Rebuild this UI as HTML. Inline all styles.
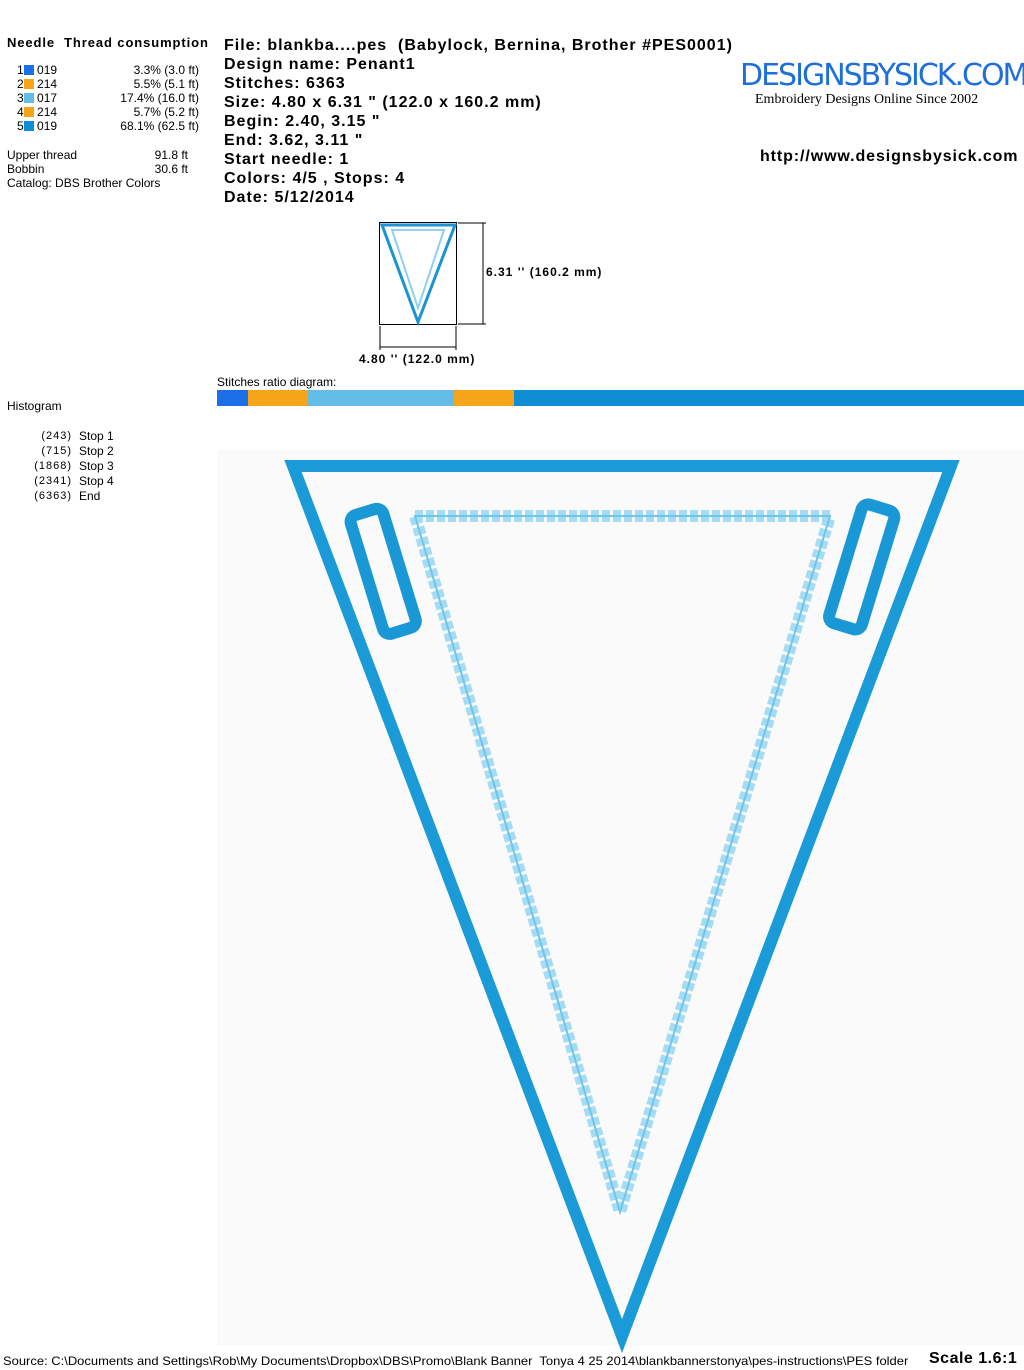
<!DOCTYPE html>
<html><head><style>
body{margin:0;width:1024px;height:1370px;background:#fff;position:relative;overflow:hidden;font-family:"Liberation Sans",Arial,sans-serif;color:#000}
.a{position:absolute;white-space:nowrap}
.s{font-size:12px;line-height:14px}
.b{font-weight:bold;font-size:16px;line-height:19px;letter-spacing:1px}
.sw{display:inline-block;width:10px;height:10px;vertical-align:-1px}
</style></head><body>
<div class="a" style="left:7px;top:35px;font-weight:bold;font-size:13px;letter-spacing:0.9px">Needle&nbsp;&nbsp;Thread consumption</div>
<div class="a s" style="left:17px;top:63px;line-height:14px">1<span class="sw" style="background:#1a6fe6"></span> 019<br>2<span class="sw" style="background:#f6a51a"></span> 214<br>3<span class="sw" style="background:#63bde8"></span> 017<br>4<span class="sw" style="background:#f6a51a"></span> 214<br>5<span class="sw" style="background:#0f8ed6"></span> 019</div>
<div class="a s" style="left:100px;top:63px;width:99px;text-align:right">3.3% (3.0 ft)<br>5.5% (5.1 ft)<br>17.4% (16.0 ft)<br>5.7% (5.2 ft)<br>68.1% (62.5 ft)</div>
<div class="a s" style="left:7px;top:148px">Upper thread<br>Bobbin<br>Catalog: DBS Brother Colors</div>
<div class="a s" style="left:150px;top:148px;width:38px;text-align:right">91.8 ft<br>30.6 ft</div>
<div class="a b" style="left:224px;top:36px">File: blankba....pes&nbsp; (Babylock, Bernina, Brother #PES0001)<br>Design name: Penant1<br>Stitches: 6363<br>Size: 4.80 x 6.31 " (122.0 x 160.2 mm)<br>Begin: 2.40, 3.15 "<br>End: 3.62, 3.11 "<br>Start needle: 1<br>Colors: 4/5 , Stops: 4<br>Date: 5/12/2014</div>
<div class="a" style="left:740px;top:58px;font-size:30px;color:#1e6fd9;font-family:'DejaVu Sans',sans-serif;letter-spacing:-2px">DESIGNSBYSICK.COM</div>
<div class="a" style="left:755px;top:92px;font-size:14px;font-family:'Liberation Serif',serif">Embroidery Designs Online Since 2002</div>
<div class="a" style="left:760px;top:148px;font-weight:bold;font-size:16px;letter-spacing:0.9px">http://www.designsbysick.com</div>
<svg class="a" style="left:0;top:0" width="1024" height="1370">
<rect x="379.5" y="222.5" width="77" height="102" fill="none" stroke="#000"/>
<path d="M382 225 L455 225 L418 322 Z" fill="none" stroke="#1c93d3" stroke-width="3"/>
<path d="M392 230 L444 230 L418 308 Z" fill="none" stroke="#8fd0ee" stroke-width="2"/>
<line x1="458" y1="223" x2="486" y2="223" stroke="#000"/><line x1="458" y1="324" x2="486" y2="324" stroke="#000"/>
<line x1="483" y1="223" x2="483" y2="324" stroke="#000"/>
<line x1="380" y1="326" x2="380" y2="350" stroke="#000"/><line x1="456" y1="326" x2="456" y2="350" stroke="#000"/>
<line x1="380" y1="347" x2="456" y2="347" stroke="#000"/>
<rect x="217" y="450" width="807" height="895" fill="#fafafa"/>
<rect x="217" y="390" width="31" height="16" fill="#1a6fe6"/>
<rect x="248" y="390" width="60" height="16" fill="#f6a51a"/>
<rect x="308" y="390" width="146" height="16" fill="#63bde8"/>
<rect x="454" y="390" width="60" height="16" fill="#f6a51a"/>
<rect x="514" y="390" width="510" height="16" fill="#0f8ed6"/>
<path d="M415 516 L830 516 L620 1212 Z" fill="none" stroke="#a6dcf3" stroke-width="12" stroke-dasharray="8 3" stroke-linejoin="round"/>
<path d="M415 516 L830 516 L620 1212 Z" fill="none" stroke="#6cc6ec" stroke-width="2"/>
<path d="M293 466 L951 466 L622 1336 Z" fill="none" stroke="#1a9bd7" stroke-width="12" stroke-linejoin="miter"/>
<g transform="rotate(-17 381 571)"><rect x="366" y="510" width="34" height="124" rx="7" fill="none" stroke="#1a98d5" stroke-width="12"/></g>
<g transform="rotate(17 862 566)"><rect x="845" y="505" width="34" height="124" rx="7" fill="none" stroke="#1a98d5" stroke-width="12"/></g>
</svg>
<div class="a" style="left:486px;top:265px;font-weight:bold;font-size:12px;letter-spacing:1px">6.31 '' (160.2 mm)</div>
<div class="a" style="left:359px;top:352px;font-weight:bold;font-size:12px;letter-spacing:1px">4.80 '' (122.0 mm)</div>
<div class="a s" style="left:217px;top:375px">Stitches ratio diagram:</div>
<div class="a s" style="left:7px;top:399px">Histogram</div>
<div class="a" style="left:20px;top:429px;width:52px;text-align:right;font-size:11px;line-height:15px;letter-spacing:1px">(243)<br>(715)<br>(1868)<br>(2341)<br>(6363)</div>
<div class="a" style="left:79px;top:429px;font-size:12px;line-height:15px">Stop 1<br>Stop 2<br>Stop 3<br>Stop 4<br>End</div>
<div class="a" style="left:3px;top:1354px;font-size:12px;transform:scaleX(1.08);transform-origin:left">Source: C:\Documents and Settings\Rob\My Documents\Dropbox\DBS\Promo\Blank Banner&nbsp; Tonya 4 25 2014\blankbannerstonya\pes-instructions\PES folder</div>
<div class="a" style="left:929px;top:1350px;font-weight:bold;font-size:16px;letter-spacing:0.5px">Scale 1.6:1</div>
</body></html>
